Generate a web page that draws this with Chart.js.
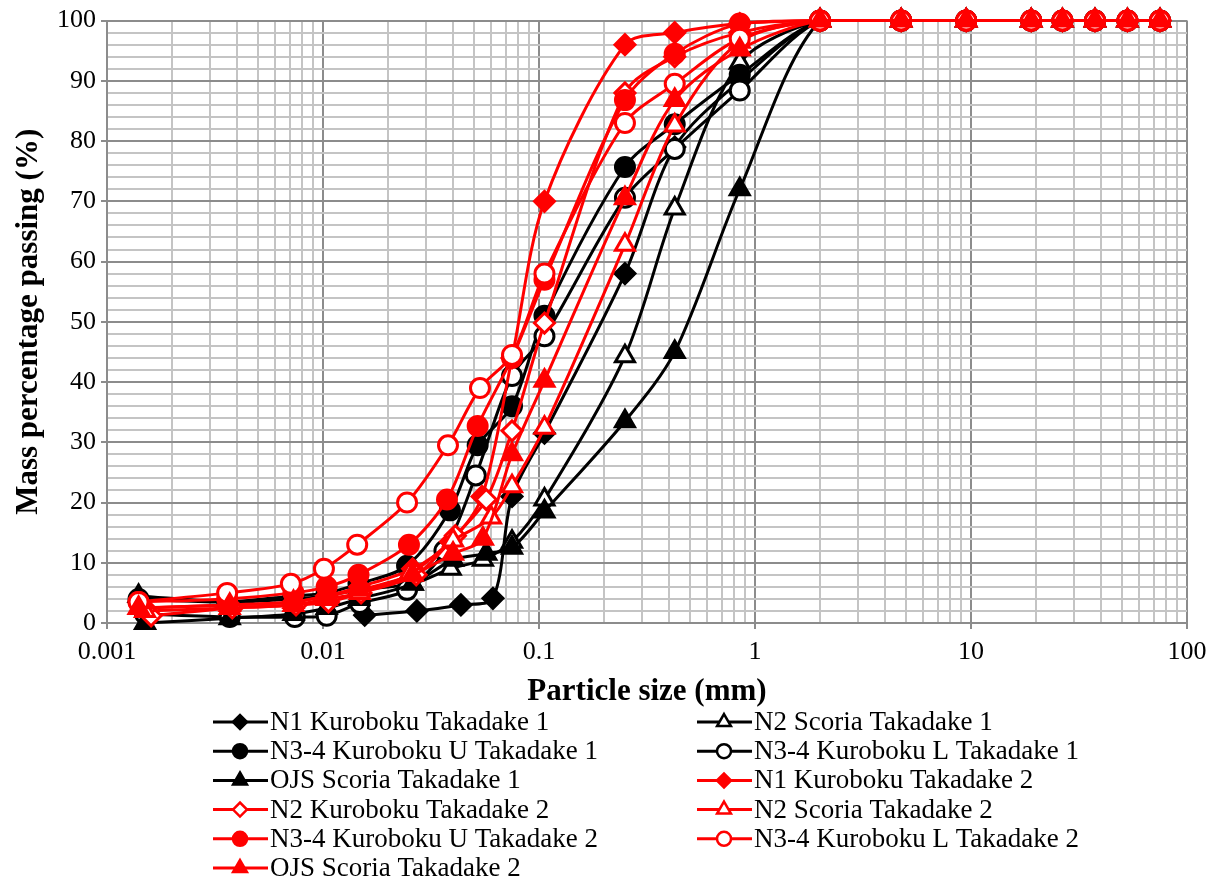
<!DOCTYPE html>
<html>
<head>
<meta charset="utf-8">
<script src="https://cdn.jsdelivr.net/npm/chart.js@4.4.1/dist/chart.umd.min.js"></script>
<style>
  html, body { margin: 0; padding: 0; background: #fff; }
  #wrap { width: 1221px; height: 879px; }
</style>
</head>
<body>
<div id="wrap"><canvas id="psdChart" width="1221" height="879"></canvas></div>
<script>
// sieve sizes shared by every sample (mm)
const sieveSizes = [0.075, 0.106, 0.25, 0.425, 0.85, 2, 4.75, 9.5, 19, 26.5, 37.5, 53, 75];
const xTickLabels = ['0.001', '0.01', '0.1', '1', '10', '100'];
const yTickLabels = ['0', '10', '20', '30', '40', '50', '60', '70', '80', '90', '100'];

// hydrometer part (size mm / % passing) + sieve part (% passing)
const n1k1HydSize = [0.0156, 0.0272, 0.0435, 0.0612];
const n1k1HydPass = [1.3, 2, 3, 4.1];
const n1k1Sieve = [21, 31.5, 58, 79, 90, 100, 100, 100, 100, 100, 100, 100, 100];

const n2s1HydSize = [0.0014, 0.0037, 0.0073, 0.0104, 0.0146, 0.026, 0.039, 0.055];
const n2s1HydPass = [4.5, 3.5, 4, 4.5, 5.5, 6.5, 9, 10.5];
const n2s1Sieve = [13.5, 20.5, 44.3, 68.8, 93, 100, 100, 100, 100, 100, 100, 100, 100];

const n34u1HydSize = [0.0014, 0.0036, 0.0073, 0.0104, 0.0146, 0.0245, 0.0387, 0.052];
const n34u1HydPass = [4, 3.5, 4.5, 5, 6.5, 9.5, 18.7, 29.5];
const n34u1Sieve = [36, 51, 75.7, 82.8, 91, 100, 100, 100, 100, 100, 100, 100, 100];

const n34l1HydSize = [0.0015, 0.0037, 0.0074, 0.0104, 0.0148, 0.0245, 0.0365, 0.051];
const n34l1HydPass = [1.5, 1, 1, 1.2, 3.3, 5.5, 12, 24.5];
const n34l1Sieve = [41, 47.6, 70.6, 78.7, 88.4, 100, 100, 100, 100, 100, 100, 100, 100];

const ojs1HydSize = [0.0015, 0.0037, 0.0073, 0.0104, 0.0147, 0.026, 0.04, 0.057];
const ojs1HydPass = [0, 0.8, 1.5, 2.5, 4, 6.5, 10.5, 11.5];
const ojs1Sieve = [12.5, 18.5, 33.5, 45, 72, 100, 100, 100, 100, 100, 100, 100, 100];

const n1k2HydSize = [0.0015, 0.0037, 0.0073, 0.0104, 0.0148, 0.026, 0.039, 0.0545];
const n1k2HydPass = [2.5, 3, 3.5, 4.5, 6, 9, 13.5, 21];
const n1k2Sieve = [44, 70, 96, 98, 99.5, 100, 100, 100, 100, 100, 100, 100, 100];

const n2k2HydSize = [0.0016, 0.0038, 0.0075, 0.0106, 0.015, 0.027, 0.041, 0.057];
const n2k2HydPass = [1.2, 2.5, 3, 3.5, 5, 8, 14.5, 20.5];
const n2k2Sieve = [31.9, 49.8, 88, 94, 98, 100, 100, 100, 100, 100, 100, 100, 100];

const n2s2HydSize = [0.0015, 0.0037, 0.0073, 0.0104, 0.0148, 0.025, 0.04, 0.06];
const n2s2HydPass = [2, 2.5, 3, 4, 5, 8, 13.7, 17.5];
const n2s2Sieve = [22.7, 32.4, 62.8, 82.6, 96.5, 100, 100, 100, 100, 100, 100, 100, 100];

const n34u2HydSize = [0.0014, 0.0036, 0.0073, 0.0104, 0.0146, 0.025, 0.0375, 0.052];
const n34u2HydPass = [3.5, 4, 5, 6, 8, 13, 20.5, 32.7];
const n34u2Sieve = [44, 57, 86.8, 94.5, 99.5, 100, 100, 100, 100, 100, 100, 100, 100];

const n34l2HydSize = [0.0014, 0.0036, 0.0071, 0.0101, 0.0144, 0.0245, 0.0379, 0.0533];
const n34l2HydPass = [3.5, 5, 6.5, 9, 13, 20, 29.5, 39];
const n34l2Sieve = [44.5, 58, 83, 89.5, 97, 100, 100, 100, 100, 100, 100, 100, 100];

const ojs2HydSize = [0.0014, 0.0037, 0.0073, 0.0104, 0.0147, 0.026, 0.04, 0.055];
const ojs2HydPass = [2.5, 3, 3.5, 4.5, 5.5, 8, 11.5, 14];
const ojs2Sieve = [28, 40.2, 70.5, 86.8, 95.2, 100, 100, 100, 100, 100, 100, 100, 100];

const FONT = "'Liberation Serif', 'Times New Roman', serif";
const RED = '#ff0000';
const BLACK = '#000000';

function toPoints(hydSize, hydPass, sievePass) {
    const pts = hydSize.map((s, i) => ({ x: s, y: hydPass[i] }));
    sieveSizes.forEach((s, i) => pts.push({ x: s, y: sievePass[i] }));
    return pts;
}

function series(label, color, style, open, hs, hp, sp) {
    const radius = style === 'triangle' ? 11 : (style === 'rectRot' ? 10 : 9.5);
    return {
        label: label,
        data: toPoints(hs, hp, sp),
        showLine: true,
        borderColor: color,
        borderWidth: 3,
        tension: 0.3,
        pointStyle: style,
        pointRadius: radius,
        pointBackgroundColor: open ? '#ffffff' : color,
        pointBorderColor: color,
        pointBorderWidth: 3,
        clip: false,
    };
}

const datasets = [
    series('N1 Kuroboku Takadake 1', BLACK, 'rectRot', false, n1k1HydSize, n1k1HydPass, n1k1Sieve),
    series('N2 Scoria Takadake 1', BLACK, 'triangle', true, n2s1HydSize, n2s1HydPass, n2s1Sieve),
    series('N3-4 Kuroboku U Takadake 1', BLACK, 'circle', false, n34u1HydSize, n34u1HydPass, n34u1Sieve),
    series('N3-4 Kuroboku L Takadake 1', BLACK, 'circle', true, n34l1HydSize, n34l1HydPass, n34l1Sieve),
    series('OJS Scoria Takadake 1', BLACK, 'triangle', false, ojs1HydSize, ojs1HydPass, ojs1Sieve),
    series('N1 Kuroboku Takadake 2', RED, 'rectRot', false, n1k2HydSize, n1k2HydPass, n1k2Sieve),
    series('N2 Kuroboku Takadake 2', RED, 'rectRot', true, n2k2HydSize, n2k2HydPass, n2k2Sieve),
    series('N2 Scoria Takadake 2', RED, 'triangle', true, n2s2HydSize, n2s2HydPass, n2s2Sieve),
    series('N3-4 Kuroboku U Takadake 2', RED, 'circle', false, n34u2HydSize, n34u2HydPass, n34u2Sieve),
    series('N3-4 Kuroboku L Takadake 2', RED, 'circle', true, n34l2HydSize, n34l2HydPass, n34l2Sieve),
    series('OJS Scoria Takadake 2', RED, 'triangle', false, ojs2HydSize, ojs2HydPass, ojs2Sieve),
];
// later series on top, like the spreadsheet
datasets.forEach((d, i) => { d.order = datasets.length - i; });

// grid values for the log axis: 1..9 of every decade
const logGrid = [];
for (let e = -3; e <= 1; e++) {
    for (let m = 1; m <= 9; m++) logGrid.push(Number((m * Math.pow(10, e)).toPrecision(3)));
}
logGrid.push(100);

function isDecade(v) {
    const l = Math.log10(v);
    return Math.abs(l - Math.round(l)) < 1e-9;
}

// two-column legend under the axis title
const legendTwoCol = {
    id: 'legendTwoCol',
    afterDraw(chart) {
        const ctx = chart.ctx;
        ctx.save();
        chart.data.datasets.forEach((d, i) => {
            const row = Math.floor(i / 2);
            const x0 = i % 2 === 0 ? 213 : 697;
            const y = 722 + row * 29.2;
            ctx.strokeStyle = d.borderColor;
            ctx.lineWidth = 3;
            ctx.beginPath();
            ctx.moveTo(x0, y);
            ctx.lineTo(x0 + 55, y);
            ctx.stroke();
            ctx.fillStyle = d.pointBackgroundColor;
            ctx.strokeStyle = d.pointBorderColor;
            ctx.lineWidth = 2.5;
            Chart.helpers.drawPoint(ctx, {
                pointStyle: d.pointStyle,
                radius: d.pointStyle === 'triangle' ? 8 : 7,
                borderWidth: 2.5,
                rotation: 0,
            }, x0 + 27, y);
            ctx.fillStyle = '#000';
            ctx.font = '27px ' + FONT;
            ctx.textBaseline = 'middle';
            ctx.textAlign = 'left';
            ctx.fillText(d.label, x0 + 57, y + 1);
        });
        ctx.restore();
    }
};

const ctx = document.getElementById('psdChart').getContext('2d');
new Chart(ctx, {
    type: 'scatter',
    data: { datasets: datasets },
    plugins: [legendTwoCol],
    options: {
        responsive: false,
        animation: false,
        layout: { padding: { left: 0, top: 18, right: 34, bottom: 164 } },
        plugins: {
            legend: { display: false },
            tooltip: { enabled: false },
        },
        scales: {
            x: {
                type: 'logarithmic',
                min: 0.001,
                max: 100,
                afterBuildTicks: (scale) => {
                    scale.ticks = logGrid.map(v => ({ value: v }));
                },
                afterFit: (scale) => { scale.height = 92; },
                ticks: {
                    autoSkip: false,
                    maxRotation: 0,
                    padding: 8,
                    color: '#000',
                    font: { family: FONT, size: 26 },
                    callback: function (value) {
                        if (!isDecade(value)) return '';
                        return xTickLabels[Math.round(Math.log10(value)) + 3];
                    }
                },
                grid: {
                    lineWidth: 2,
                    tickLength: 6,
                    color: (c) => (c.tick && isDecade(c.tick.value)) ? '#8c8c8c' : '#c4c4c4',
                    tickColor: (c) => (c.tick && isDecade(c.tick.value)) ? '#8c8c8c' : 'rgba(0,0,0,0)',
                },
                border: { color: '#8c8c8c', width: 2 },
                title: {
                    display: true,
                    text: 'Particle size (mm)',
                    color: '#000',
                    padding: { top: 4, bottom: 4 },
                    font: { family: FONT, size: 31, weight: 'bold' },
                },
            },
            y: {
                min: 0,
                max: 100,
                afterFit: (scale) => { scale.width = 107; },
                ticks: {
                    stepSize: 2,
                    autoSkip: false,
                    padding: 5,
                    color: '#000',
                    font: { family: FONT, size: 26 },
                    callback: function (value) {
                        if (value % 10 !== 0) return '';
                        return yTickLabels[value / 10];
                    }
                },
                grid: {
                    lineWidth: 2,
                    tickLength: 6,
                    color: (c) => (c.tick && c.tick.value % 10 === 0) ? '#8c8c8c' : '#c4c4c4',
                    tickColor: (c) => (c.tick && c.tick.value % 10 === 0) ? '#8c8c8c' : 'rgba(0,0,0,0)',
                },
                border: { color: '#8c8c8c', width: 2 },
                title: {
                    display: true,
                    text: 'Mass percentage passing (%)',
                    color: '#000',
                    padding: { top: 10, bottom: 4 },
                    font: { family: FONT, size: 31, weight: 'bold' },
                },
            }
        }
    }
});
</script>
</body>
</html>
